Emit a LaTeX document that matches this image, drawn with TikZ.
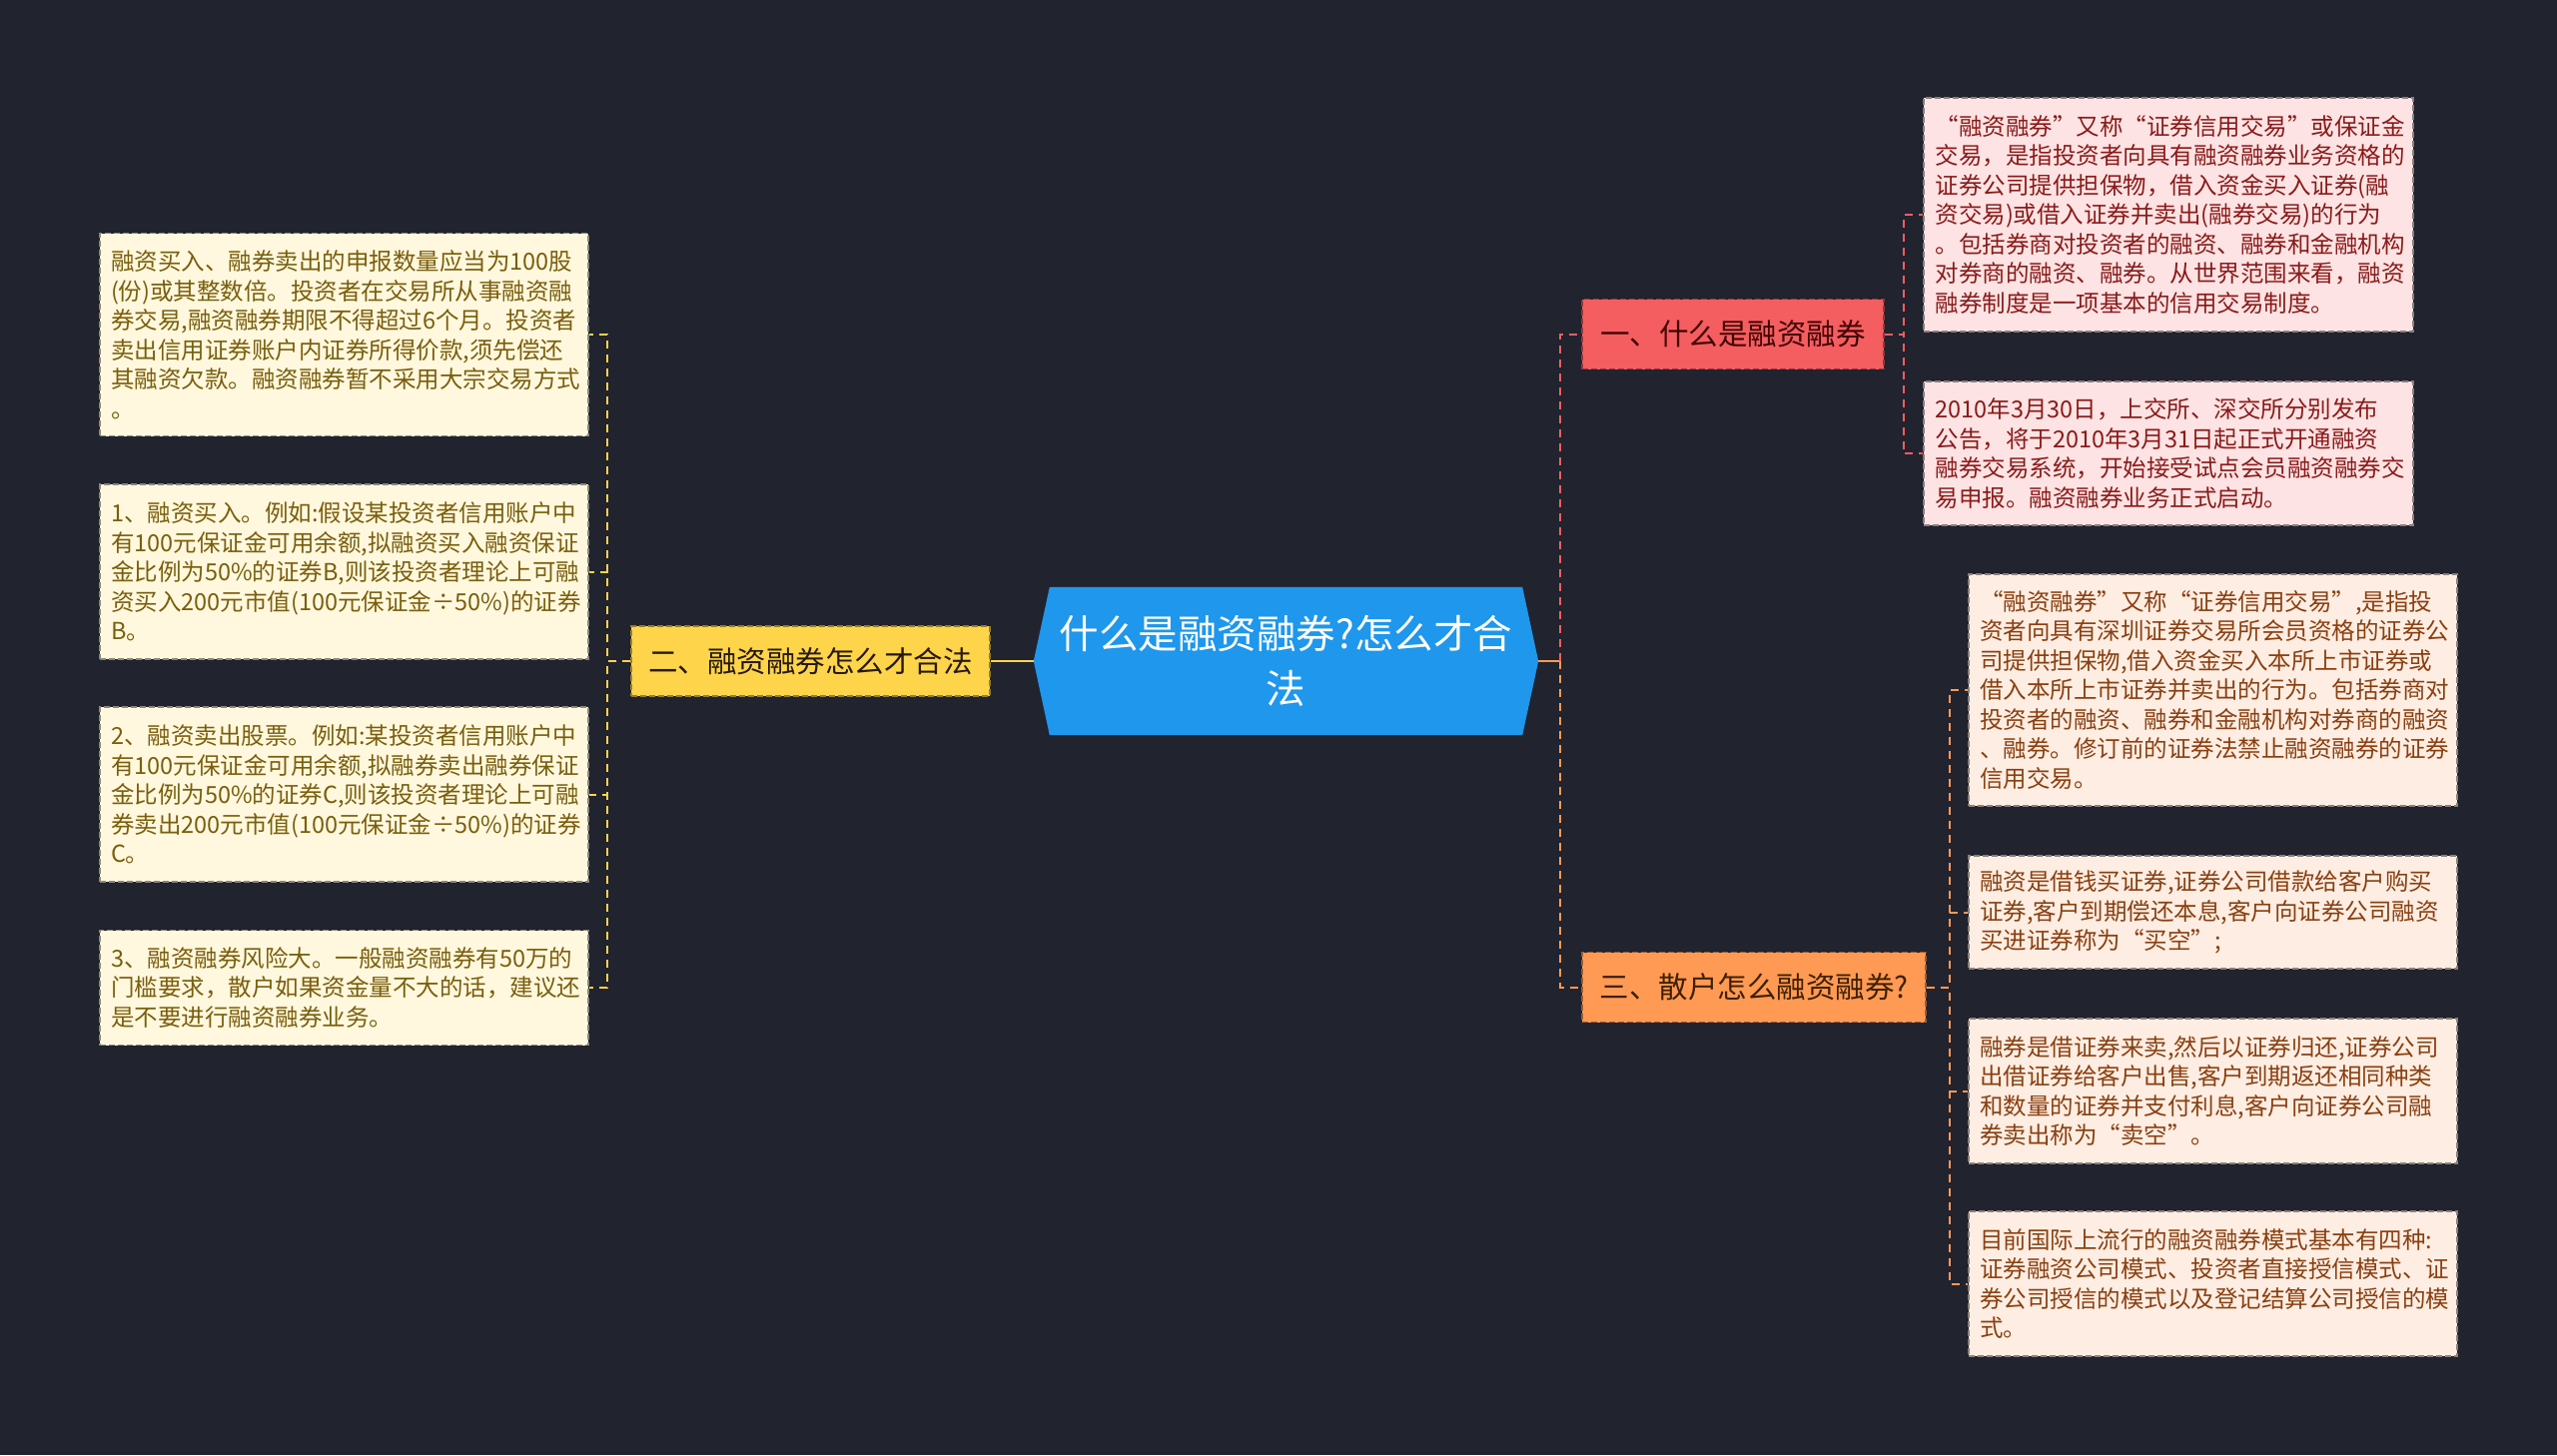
\documentclass[tikz,border=0pt]{standalone}
\usepackage{fontspec}
\setmainfont{Noto Sans CJK SC}
\usetikzlibrary{backgrounds}

\definecolor{bgnavy}{HTML}{21232E}
\definecolor{hubblue}{HTML}{1E97EC}
\definecolor{secyellow}{HTML}{FDD44A}
\definecolor{secred}{HTML}{F45E60}
\definecolor{secorange}{HTML}{FF9A55}
\definecolor{leafcream}{HTML}{FFF8DE}
\definecolor{leafpink}{HTML}{FDE3E3}
\definecolor{leafpeach}{HTML}{FDEDE2}
\definecolor{txtolive}{HTML}{7A5E0C}
\definecolor{txtmaroon}{HTML}{8A1A1A}
\definecolor{txtbrown}{HTML}{8A3F10}

\begin{document}
\begin{tikzpicture}[
    x=1pt, y=-1pt,
    hub/.style={inner sep=0pt,minimum width=505pt,minimum height=148pt,align=center,text=white,font=\fontsize{39.5}{55}\selectfont},
    sec/.style={draw,dash pattern=on 6pt off 3pt,line width=1.5pt,inner sep=0pt,minimum height=70pt,font=\fontsize{29.5}{34}\selectfont},
    leaf/.style={draw,dash pattern=on 6pt off 3pt,line width=1.4pt,inner sep=0pt,text width=467pt,align=left,minimum width=489pt,font=\fontsize{23.5}{29.5}\selectfont},
    link/.style={line width=2pt,dash pattern=on 8pt off 6pt},
  ]
  \useasboundingbox (0,0) rectangle (2560,1457);

  \node[hub] (root) at (1287.5,662) {什么是融资融券?怎么才合\\法};
  \begin{scope}[on background layer]
    \fill[bgnavy] (0,0) rectangle (2560,1457);
    \fill[hubblue] ([xshift=16pt]root.north west) -- ([xshift=-16pt]root.north east) -- (root.east)
      -- ([xshift=-16pt]root.south east) -- ([xshift=16pt]root.south west) -- (root.west) -- cycle;
  \end{scope}

  % sections
  \node[sec,fill=secyellow,draw=secyellow!60!black,text=black!80!brown,minimum width=359pt] (s2) at (811.5,662) {二、融资融券怎么才合法};
  \node[sec,fill=secred,draw=secred!60!black,text=black!75!red,minimum width=302pt] (s1) at (1735,334.5) {一、什么是融资融券};
  \node[sec,fill=secorange,draw=secorange!60!black,text=black!75!orange,minimum width=344pt] (s3) at (1756,988.5) {三、散户怎么融资融券?};

  % left leaves
  \node[leaf,fill=leafcream,draw=leafcream!55!black,text=txtolive,minimum height=203pt] (l1) at (344.5,335) {融资买入、融券卖出的申报数量应当为100股\\(份)或其整数倍。投资者在交易所从事融资融\\券交易,融资融券期限不得超过6个月。投资者\\卖出信用证券账户内证券所得价款,须先偿还\\其融资欠款。融资融券暂不采用大宗交易方式\\。};
  \node[leaf,fill=leafcream,draw=leafcream!55!black,text=txtolive,minimum height=175pt] (l2) at (344.5,572.5) {1、融资买入。例如:假设某投资者信用账户中\\有100元保证金可用余额,拟融资买入融资保证\\金比例为50\%的证券B,则该投资者理论上可融\\资买入200元市值(100元保证金÷50\%)的证券\\B。};
  \node[leaf,fill=leafcream,draw=leafcream!55!black,text=txtolive,minimum height=175pt] (l3) at (344.5,795.5) {2、融资卖出股票。例如:某投资者信用账户中\\有100元保证金可用余额,拟融券卖出融券保证\\金比例为50\%的证券C,则该投资者理论上可融\\券卖出200元市值(100元保证金÷50\%)的证券\\C。};
  \node[leaf,fill=leafcream,draw=leafcream!55!black,text=txtolive,minimum height=115pt] (l4) at (344.5,989) {3、融资融券风险大。一般融资融券有50万的\\门槛要求，散户如果资金量不大的话，建议还\\是不要进行融资融券业务。};

  % right leaves
  \node[leaf,fill=leafpink,draw=leafpink!55!black,text=txtmaroon,minimum width=490pt,minimum height=234pt] (r1) at (2171,215) {“融资融券”又称“证券信用交易”或保证金\\交易，是指投资者向具有融资融券业务资格的\\证券公司提供担保物，借入资金买入证券(融\\资交易)或借入证券并卖出(融券交易)的行为\\。包括券商对投资者的融资、融券和金融机构\\对券商的融资、融券。从世界范围来看，融资\\融券制度是一项基本的信用交易制度。};
  \node[leaf,fill=leafpink,draw=leafpink!55!black,text=txtmaroon,minimum width=490pt,minimum height=144pt] (r2) at (2171,454) {2010年3月30日，上交所、深交所分别发布\\公告，将于2010年3月31日起正式开通融资\\融券交易系统，开始接受试点会员融资融券交\\易申报。融资融券业务正式启动。};
  \node[leaf,fill=leafpeach,draw=leafpeach!55!black,text=txtbrown,minimum height=232pt] (o1) at (2215.5,691) {“融资融券”又称“证券信用交易”,是指投\\资者向具有深圳证券交易所会员资格的证券公\\司提供担保物,借入资金买入本所上市证券或\\借入本所上市证券并卖出的行为。包括券商对\\投资者的融资、融券和金融机构对券商的融资\\、融券。修订前的证券法禁止融资融券的证券\\信用交易。};
  \node[leaf,fill=leafpeach,draw=leafpeach!55!black,text=txtbrown,minimum height=113pt] (o2) at (2215.5,913.5) {融资是借钱买证券,证券公司借款给客户购买\\证券,客户到期偿还本息,客户向证券公司融资\\买进证券称为“买空”;};
  \node[leaf,fill=leafpeach,draw=leafpeach!55!black,text=txtbrown,minimum height=145pt] (o3) at (2215.5,1092.5) {融券是借证券来卖,然后以证券归还,证券公司\\出借证券给客户出售,客户到期返还相同种类\\和数量的证券并支付利息,客户向证券公司融\\券卖出称为“卖空”。};
  \node[leaf,fill=leafpeach,draw=leafpeach!55!black,text=txtbrown,minimum height=145pt] (o4) at (2215.5,1285.5) {目前国际上流行的融资融券模式基本有四种:\\证券融资公司模式、投资者直接授信模式、证\\券公司授信的模式以及登记结算公司授信的模\\式。};

  % connectors
  \draw[secyellow,line width=2.5pt] (root.west) -- (s2.east);
  \foreach \n in {l1,l2,l3,l4}
    \draw[link,secyellow] (s2.west) -- ++(-23,0) |- (\n.east);
  \draw[secorange,line width=2.5pt] (root.east) -- ++(22,0) coordinate (rj);
  \draw[link,secred] (rj) |- (s1.west);
  \draw[link,secorange] (rj) |- (s3.west);
  \foreach \n in {r1,r2}
    \draw[link,secred] (s1.east) -- ++(19,0) |- (\n.west);
  \foreach \n in {o1,o2,o3,o4}
    \draw[link,secorange] (s3.east) -- ++(23,0) |- (\n.west);
\end{tikzpicture}
\end{document}
